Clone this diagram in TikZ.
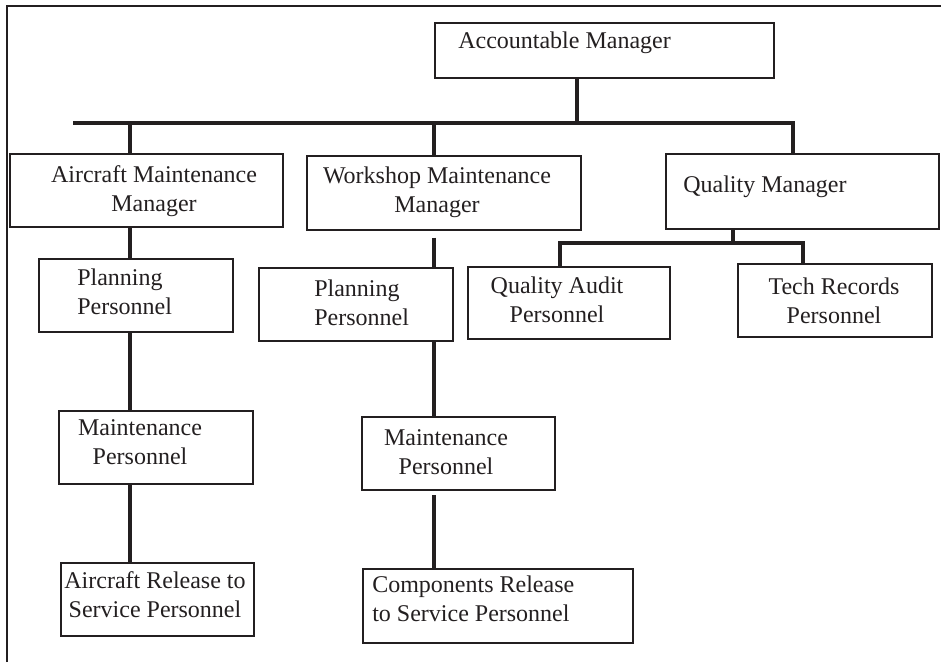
\documentclass[tikz,border=0pt]{standalone}
\usepackage{fontspec}
\setmainfont{Liberation Serif}
\newlength{\pixel}
\setlength{\pixel}{0.75pt}
\definecolor{ink}{HTML}{231F20}
\tikzset{
	box/.style={draw=ink, line width=1.5pt, anchor=north west, inner sep=0pt},
	boxtext/.style={text=ink, inner sep=0pt, font=\fontsize{18}{21.4}\selectfont},
	link/.style={draw=ink, line width=3.2pt},
}
\begin{document}
\begin{tikzpicture}[x=0.75pt, y=-0.75pt]
		\useasboundingbox (0, 0) rectangle (941, 662);
		% Draw frame
		\draw[ink, line width=1.6pt] (7, 662) -- (7, 6) -- (941, 6);

		% Draw boxes
		\node[box, minimum width=339\pixel, minimum height=55\pixel] (acc) at (434, 22) {};
		\node[box, minimum width=273\pixel, minimum height=73\pixel] (amm) at (9, 153) {};
		\node[box, minimum width=274\pixel, minimum height=74\pixel] (wmm) at (306, 155) {};
		\node[box, minimum width=273\pixel, minimum height=75\pixel] (qm) at (665, 153) {};
		\node[box, minimum width=194\pixel, minimum height=73\pixel] (plan1) at (38, 258) {};
		\node[box, minimum width=194\pixel, minimum height=73\pixel] (maint1) at (58, 410) {};
		\node[box, minimum width=193\pixel, minimum height=73\pixel] (arts) at (60, 562) {};
		\node[box, minimum width=194\pixel, minimum height=73\pixel] (plan2) at (258, 267) {};
		\node[box, minimum width=193\pixel, minimum height=73\pixel] (maint2) at (361, 416) {};
		\node[box, minimum width=270\pixel, minimum height=74\pixel] (crts) at (362, 568) {};
		\node[box, minimum width=202\pixel, minimum height=72\pixel] (qa) at (467, 266) {};
		\node[box, minimum width=194\pixel, minimum height=73\pixel] (tr) at (737, 263) {};

		% Box texts (two-line texts sit on their last baseline)
		\node[boxtext, anchor=base west] (acc-t) at (458, 48) {Accountable Manager};
		\node[boxtext, anchor=base, align=center] (amm-t) at (154, 211) {Aircraft Maintenance\\Manager};
		\node[boxtext, anchor=base, align=center] (wmm-t) at (437, 212) {Workshop Maintenance\\Manager};
		\node[boxtext, anchor=base west] (qm-t) at (683, 192) {Quality Manager};
		\node[boxtext, anchor=base west, align=left] (plan1-t) at (77, 314) {Planning\\Personnel};
		\node[boxtext, anchor=base, align=center] (maint1-t) at (140, 464) {Maintenance\\Personnel};
		\node[boxtext, anchor=base, align=center] (arts-t) at (155, 617) {Aircraft Release to\\Service Personnel};
		\node[boxtext, anchor=base west, align=left] (plan2-t) at (314, 325) {Planning\\Personnel};
		\node[boxtext, anchor=base, align=center] (maint2-t) at (446, 474) {Maintenance\\Personnel};
		\node[boxtext, anchor=base west, align=left] (crts-t) at (372, 621) {Components Release\\to Service Personnel};
		\node[boxtext, anchor=base, align=center] (qa-t) at (557, 322) {Quality Audit\\Personnel};
		\node[boxtext, anchor=base, align=center] (tr-t) at (834, 323) {Tech Records\\Personnel};

		% Junction points
		\coordinate (hub) at (577, 123);
		\coordinate (busL) at (73, 123);
		\coordinate (busR) at (793, 123);
		\coordinate (colA) at (130, 0);
		\coordinate (colB) at (434, 0);
		\coordinate (qhub) at (733, 243);
		\coordinate (qL) at (560, 243);
		\coordinate (qR) at (803, 243);

		% Top level
		\draw[link] (acc.south -| hub) -- (hub);
		\draw[link] (busL) -- (busR) -- (busR |- qm.north);
		\draw[link] (colA |- hub) -- (colA |- amm.north);
		\draw[link] (colB |- hub) -- (colB |- wmm.north);

		% Aircraft column
		\draw[link] (amm.south -| colA) -- (colA |- plan1.north);
		\draw[link] (plan1.south -| colA) -- (colA |- maint1.north);
		\draw[link] (maint1.south -| colA) -- (colA |- arts.north);

		% Workshop column
		\draw[link, shorten <=5pt] (wmm.south -| colB) -- (colB |- plan2.north);
		\draw[link] (plan2.south -| colB) -- (colB |- maint2.north);
		\draw[link, shorten <=3pt] (maint2.south -| colB) -- (colB |- crts.north);

		% Quality branch
		\draw[link] (qm.south -| qhub) -- (qhub);
		\draw[link] (qa.north -| qL) -- (qL) -- (qR) -- (tr.north -| qR);
\end{tikzpicture}
\end{document}
